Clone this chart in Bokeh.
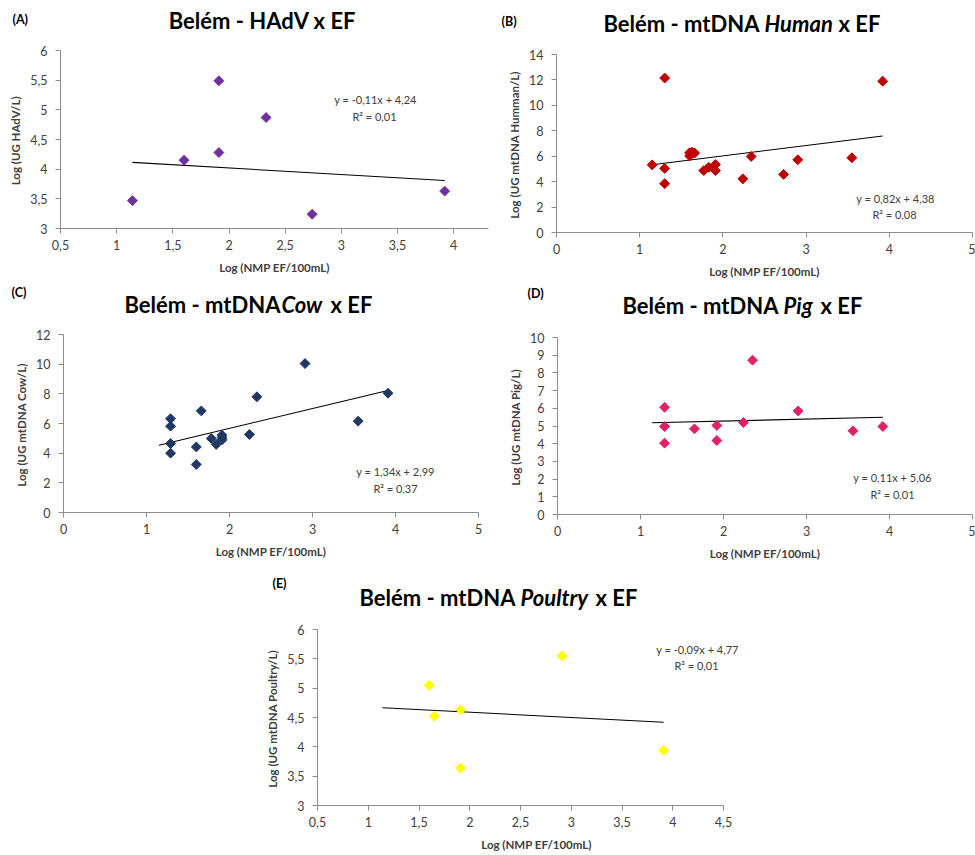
import math
from bokeh.plotting import figure
from bokeh.layouts import column, row
from bokeh.models import Label, Range1d, FixedTicker, CustomJSTickFormatter, Spacer
from bokeh.embed import file_html
from bokeh.resources import INLINE

# ---------------- data ----------------
hadv_x = [1.14, 1.60, 1.91, 1.91, 2.33, 2.74, 3.92]
hadv_y = [3.47, 4.15, 5.49, 4.28, 4.87, 3.24, 3.63]

human_x = [1.15, 1.30, 1.30, 1.30, 1.60, 1.60, 1.63, 1.66, 1.77, 1.83, 1.91, 1.91, 2.24, 2.34, 2.73, 2.90, 3.55, 3.92]
human_y = [5.32, 12.15, 5.04, 3.84, 6.27, 6.02, 6.32, 6.25, 4.87, 5.13, 5.35, 4.87, 4.22, 5.98, 4.57, 5.72, 5.88, 11.90]

cow_x = [1.29, 1.29, 1.29, 1.29, 1.60, 1.60, 1.66, 1.78, 1.84, 1.91, 1.91, 1.91, 2.24, 2.33, 2.91, 3.55, 3.91]
cow_y = [6.32, 5.82, 4.65, 4.00, 4.42, 3.24, 6.85, 4.99, 4.59, 5.21, 5.05, 4.90, 5.26, 7.80, 10.04, 6.16, 8.04]

pig_x = [1.29, 1.29, 1.29, 1.65, 1.92, 1.92, 2.24, 2.35, 2.90, 3.56, 3.92]
pig_y = [6.06, 4.97, 4.03, 4.84, 5.03, 4.18, 5.20, 8.72, 5.85, 4.73, 4.97]

poultry_x = [1.60, 1.65, 1.91, 1.91, 2.91, 3.91]
poultry_y = [5.05, 4.52, 4.63, 3.64, 5.55, 3.94]

# trend lines: slope, intercept, x start, x end
trend_hadv = (-0.11, 4.24, 1.14, 3.92)
trend_human = (0.82, 4.38, 1.15, 3.92)
trend_cow = (1.34, 2.99, 1.15, 3.91)
trend_pig = (0.11, 5.06, 1.14, 3.92)
trend_poultry = (-0.09, 4.77, 1.14, 3.91)

eq_hadv = ["y = -0,11x + 4,24", "R\u00b2 = 0,01"]
eq_human = ["y = 0,82x + 4,38", "R\u00b2 = 0,08"]
eq_cow = ["y = 1,34x + 2,99", "R\u00b2 = 0,37"]
eq_pig = ["y = 0,11x + 5,06", "R\u00b2 = 0,01"]
eq_poultry = ["y = -0,09x + 4,77", "R\u00b2 = 0,01"]

xticks_half = [0.5, 1, 1.5, 2, 2.5, 3, 3.5, 4]
xticks_half_e = [0.5, 1, 1.5, 2, 2.5, 3, 3.5, 4, 4.5]
xticks_int = [0, 1, 2, 3, 4, 5]
yticks_hadv = [3, 3.5, 4, 4.5, 5, 5.5, 6]
yticks_human = [0, 2, 4, 6, 8, 10, 12, 14]
yticks_cow = [0, 2, 4, 6, 8, 10, 12]
yticks_pig = [0, 1, 2, 3, 4, 5, 6, 7, 8, 9, 10]
yticks_poultry = [3, 3.5, 4, 4.5, 5, 5.5, 6]

FONT = "Lato"
GRAY = "#404040"
AXIS = "#8c8c8c"
T = "22px"
TAG = "12.5px"
fmt_code = "return String(tick).replace('.', ',');"


def no_title(p):
    try:
        p.title = None
    except Exception:
        p.title.visible = False


def strip(ox, oy, width, height, labels):
    """A blank figure holding a panel title; labels are given in page pixels.
    It is wrapped in a row so that its frame is not aligned with the panel below."""
    s = figure(width=width, height=height, output_backend="svg", toolbar_location=None,
               x_range=Range1d(0, width), y_range=Range1d(height, 0),
               x_axis_type=None, y_axis_type=None,
               min_border_left=0, min_border_right=0, min_border_top=0, min_border_bottom=0)
    no_title(s)
    s.outline_line_color = None
    s.xgrid.visible = False
    s.ygrid.visible = False
    for text, x, y, size, style, align in labels:
        s.add_layout(Label(x=x - ox, y=y - oy, text=text, text_font=FONT, text_font_size=size,
                           text_font_style=style, text_align=align,
                           text_baseline="middle", text_color="black"))
    return row(s, spacing=0)


def panel(spec, xs, ys, color, trend, eq, xticks, yticks, ylabel, xbounds=None):
    w, h = spec["w"], spec["h"]
    p = figure(width=w, height=h, output_backend="svg", toolbar_location=None,
               x_range=Range1d(*spec["xr"]), y_range=Range1d(*spec["yr"]),
               min_border_left=spec["bl"], min_border_right=spec["br"],
               min_border_top=spec["bt"], min_border_bottom=spec["bb"])
    no_title(p)
    p.outline_line_color = None
    p.xgrid.visible = False
    p.ygrid.visible = False
    for ax, ticks in ((p.xaxis[0], xticks), (p.yaxis[0], yticks)):
        ax.ticker = FixedTicker(ticks=ticks)
        ax.formatter = CustomJSTickFormatter(code=fmt_code)
        ax.axis_line_color = AXIS
        ax.major_tick_line_color = AXIS
        ax.minor_tick_line_color = None
        ax.major_tick_in = 0
        ax.major_tick_out = 5
        ax.major_label_text_font = FONT
        ax.major_label_text_font_size = "12.5px"
        ax.major_label_text_color = GRAY
        ax.axis_label_text_font = FONT
        ax.axis_label_text_font_style = "bold"
        ax.axis_label_text_font_size = "11.5px"
        ax.axis_label_text_color = GRAY
    p.xaxis[0].major_label_standoff = 6
    p.yaxis[0].major_label_standoff = 8
    p.xaxis[0].axis_label = "Log (NMP EF/100mL)"
    p.xaxis[0].axis_label_standoff = 8
    p.yaxis[0].axis_label = ylabel
    p.yaxis[0].axis_label_standoff = 5
    if xbounds is not None:
        p.xaxis[0].bounds = xbounds

    m, b, xa, xb = trend
    p.line([xa, xb], [m * xa + b, m * xb + b], line_color="black", line_width=1.1)
    p.scatter(xs, ys, marker="square", angle=math.pi / 4, size=7,
              fill_color=color, line_color=color)

    fl = spec["ox"] + spec["bl"]
    ft = spec["oy"] + spec["bt"]
    fw = w - spec["bl"] - spec["br"]
    fh = h - spec["bt"] - spec["bb"]
    x0, x1 = spec["xr"]
    y0, y1 = spec["yr"]

    def d(sx, sy):
        return x0 + (sx - fl) / fw * (x1 - x0), y1 - (sy - ft) / fh * (y1 - y0)

    for text, sx, sy in ((eq[0], eq[1], eq[2]), (eq[3], eq[4], eq[5])):
        x, y = d(sx, sy)
        p.add_layout(Label(x=x, y=y, text=text, text_font=FONT, text_font_size="11px",
                           text_align="center", text_baseline="middle", text_color=GRAY))
    return p


# figure boxes in page pixels (origin top-left of page)
sA = dict(ox=0, oy=36, w=490, h=247, bl=60, br=2, bt=14, bb=55, xr=(0.5, 4.31), yr=(3, 6))
sB = dict(ox=490, oy=40, w=485, h=243, bl=66, br=3, bt=14, bb=51, xr=(0, 5), yr=(0, 14))
sC = dict(ox=0, oy=318, w=490, h=250, bl=63, br=12, bt=16, bb=56, xr=(0, 5), yr=(0, 12))
sD = dict(ox=490, oy=320, w=485, h=248, bl=67, br=3, bt=17, bb=54, xr=(0, 5), yr=(0, 10))
sE = dict(ox=250, oy=610, w=510, h=243, bl=67, br=5, bt=19, bb=47, xr=(0.5, 4.815), yr=(3, 6))

pA = panel(sA, hadv_x, hadv_y, "#7030A0", trend_hadv,
           [eq_hadv[0], 375, 99, eq_hadv[1], 374, 116], xticks_half, yticks_hadv,
           "Log (UG  HAdV/L)")
pB = panel(sB, human_x, human_y, "#C00000", trend_human,
           [eq_human[0], 895, 198, eq_human[1], 894, 214], xticks_int, yticks_human,
           "Log (UG  mtDNA Humman/L)")
pC = panel(sC, cow_x, cow_y, "#1F3864", trend_cow,
           [eq_cow[0], 395, 471, eq_cow[1], 395, 488], xticks_int, yticks_cow,
           "Log (UG  mtDNA Cow/L)")
pD = panel(sD, pig_x, pig_y, "#E0206A", trend_pig,
           [eq_pig[0], 892, 477, eq_pig[1], 892, 494], xticks_int, yticks_pig,
           "Log (UG  mtDNA Pig/L)")
pE = panel(sE, poultry_x, poultry_y, "#FFFF00", trend_poultry,
           [eq_poultry[0], 697, 649, eq_poultry[1], 696, 665], xticks_half_e, yticks_poultry,
           "Log (UG  mtDNA Poultry/L)", xbounds=(0.5, 4.5))

tA = strip(0, 0, 490, 36, [
    ("(A)", 12, 19, TAG, "bold", "left"),
    ("Belém - HAdV x EF", 262, 20, T, "bold", "center"),
])
tB = strip(490, 0, 485, 40, [
    ("(B)", 501, 21, TAG, "bold", "left"),
    ("Belém - mtDNA", 759, 23, T, "bold", "right"),
    ("Human", 764, 23, T, "bold italic", "left"),
    ("x EF", 838, 23, T, "bold", "left"),
])
tC = strip(0, 283, 490, 35, [
    ("(C)", 11, 292, TAG, "bold", "left"),
    ("Belém - mtDNA", 280, 304, T, "bold", "right"),
    ("Cow", 281, 304, T, "bold italic", "left"),
    ("x EF", 330, 304, T, "bold", "left"),
])
tD = strip(490, 283, 485, 37, [
    ("(D)", 527, 293, TAG, "bold", "left"),
    ("Belém - mtDNA", 778, 305, T, "bold", "right"),
    ("Pig", 783, 305, T, "bold italic", "left"),
    ("x EF", 820, 305, T, "bold", "left"),
])
tE = strip(250, 568, 510, 42, [
    ("(E)", 272, 583, TAG, "bold", "left"),
    ("Belém - mtDNA", 515, 597, T, "bold", "right"),
    ("Poultry", 520, 597, T, "bold italic", "left"),
    ("x EF", 595, 597, T, "bold", "left"),
])

layout = column(
    row(column(tA, pA, spacing=0), column(tB, pB, spacing=0), spacing=0),
    row(column(tC, pC, spacing=0), column(tD, pD, spacing=0), spacing=0),
    row(Spacer(width=250, height=285), column(tE, pE, spacing=0), spacing=0),
    spacing=0,
)

open("out.html", "w").write(file_html(layout, INLINE))
